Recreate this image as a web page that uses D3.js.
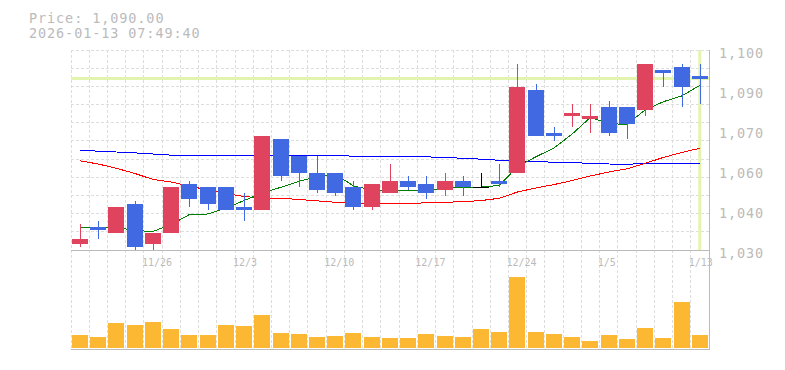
<!DOCTYPE html>
<meta charset="utf-8">
<head>
    <title>Candlestick</title>
    <style>
        body { margin: 0; background: #fff; }
        text { font-family: "DejaVu Sans Mono", monospace; fill: #bbb; }
        .grid { stroke: #ddd; stroke-dasharray: 3,2; shape-rendering: crispEdges; }
        .frame { stroke: #bbb; shape-rendering: crispEdges; }
        .ma { fill: none; stroke-width: 1; shape-rendering: crispEdges; }
    </style>
</head>
<script src="https://d3js.org/d3.v7.min.js"></script>
<svg id="chart" width="785" height="370"></svg>
<script>
    // trading days
    const dates = ["11/19", "11/20", "11/21", "11/25", "11/26", "11/27", "11/28", "12/1", "12/2", "12/3",
        "12/4", "12/5", "12/8", "12/9", "12/10", "12/11", "12/12", "12/15", "12/16", "12/17",
        "12/18", "12/19", "12/22", "12/23", "12/24", "12/25", "12/26", "12/29", "12/30", "1/5",
        "1/6", "1/7", "1/8", "1/9", "1/13"]
    const opens = [1032, 1038, 1036, 1046, 1032, 1036, 1053, 1052, 1052, 1045, 1044, 1069, 1063, 1057, 1057, 1052, 1045, 1050,
        1054, 1053, 1051, 1054, 1052, 1054, 1057, 1086, 1071, 1077, 1076, 1080, 1080, 1079, 1093, 1094, 1091]
    const highs = [1039, 1040, 1045, 1047, 1036, 1052, 1054, 1052, 1052, 1050, 1070, 1069, 1063, 1063, 1057, 1054, 1053, 1060,
        1056, 1056, 1057, 1056, 1057, 1060, 1095, 1088, 1073, 1081, 1081, 1082, 1080, 1095, 1093, 1095, 1095]
    const lows = [1031, 1034, 1036, 1030, 1030, 1036, 1045, 1044, 1044, 1040, 1044, 1054, 1052, 1050, 1049, 1044, 1044, 1050,
        1051, 1048, 1049, 1049, 1052, 1052, 1057, 1070, 1068, 1073, 1071, 1070, 1069, 1077, 1087, 1080, 1081]
    const closes = [1034, 1037, 1045, 1031, 1036, 1052, 1048, 1046, 1044, 1044, 1070, 1056, 1057, 1051, 1050, 1045, 1053, 1054,
        1052, 1050, 1054, 1052, 1052, 1053, 1087, 1070, 1070, 1078, 1077, 1071, 1074, 1095, 1092, 1087, 1090]
    const volumes = [13, 11, 25, 23, 26, 19, 13, 13, 23, 22, 33, 15, 14, 11, 12, 15, 11, 10,
        10, 14, 12, 11, 19, 16, 71, 16, 14, 11, 7, 13, 9, 20, 10, 46, 13]
    // moving averages
    const maShort = [1037.9, 1037.9, 1038.0, 1036.8, 1036.5, 1038.9, 1042.4, 1042.6, 1044.7, 1047.3, 1050.0, 1051.9, 1054.0,
        1055.6, 1056.6, 1052.4, 1051.0, 1051.0, 1050.8, 1050.8, 1051.7, 1052.0, 1052.0, 1052.6, 1059.2, 1062.6, 1065.7,
        1070.6, 1076.4, 1074.3, 1073.9, 1079.0, 1081.9, 1083.9, 1087.6]
    const maMid = [1061.2, 1060.1, 1058.6, 1056.8, 1054.7, 1053.8, 1052.4, 1051.0, 1049.8, 1048.7, 1048.2, 1048.1, 1047.7,
        1047.2, 1046.7, 1046.3, 1046.3, 1046.3, 1046.3, 1046.5, 1046.7, 1046.9, 1047.3, 1048.1, 1050.3, 1051.7, 1052.9,
        1054.3, 1055.9, 1057.3, 1058.4, 1060.3, 1062.4, 1064.1, 1065.6]
    const maLong = [1064.9, 1064.6, 1064.3, 1064.0, 1063.6, 1063.2, 1063.2, 1063.2, 1063.2, 1063.2, 1063.2, 1063.2, 1063.2,
        1063.2, 1063.2, 1062.8, 1062.8, 1062.8, 1062.8, 1062.6, 1062.4, 1062.1, 1061.8, 1061.4, 1061.2, 1061.0, 1060.7,
        1060.5, 1060.4, 1060.1, 1060.0, 1060.3, 1060.4, 1060.4, 1060.4]

    const priceTicks = [1100, 1086, 1072, 1058, 1044, 1030]
    const priceTickLabels = ["1,100", "1,090", "1,070", "1,060", "1,040", "1,030"]
    const dateLabels = ["11/26", "12/3", "12/10", "12/17", "12/24", "1/5", "1/13"]
    const lastPrice = 1090
    const headerLines = ["Price: 1,090.00", "2026-01-13 07:49:40"]

    const svg = d3.select("#chart")
    const plotLeft = 71, plotRight = 709, plotTop = 50, priceBottom = 250, volBottom = 349

    const x = d3.scaleBand().domain(dates).range([plotLeft, plotRight])
    const step = x.step()
    const y = d3.scaleLinear().domain([1030, 1100]).range([priceBottom, plotTop])
    const yv = d3.scaleLinear().domain([0, 98]).range([volBottom - 1, priceBottom])

    const bars = dates.map((d, i) => ({
        date: d, o: opens[i], h: highs[i], l: lows[i], c: closes[i], v: volumes[i]
    }))

    // grid
    const grid = svg.append("g")
    grid.selectAll("line.v")
        .data(d3.range(dates.length + 1))
        .join("line")
        .attr("class", "grid")
        .attr("x1", i => plotLeft + i * step)
        .attr("x2", i => plotLeft + i * step)
        .attr("y1", plotTop)
        .attr("y2", volBottom)
    grid.selectAll("line.h")
        .data(d3.range(12))
        .join("line")
        .attr("class", "grid")
        .attr("x1", plotLeft)
        .attr("x2", plotRight)
        .attr("y1", k => plotTop + k * (priceBottom - plotTop) / 11)
        .attr("y2", k => plotTop + k * (priceBottom - plotTop) / 11)

    // current price / current day markers
    const cx = d => x(d) + 9
    svg.append("line")
        .attr("x1", plotLeft).attr("x2", plotRight)
        .attr("y1", y(lastPrice)).attr("y2", y(lastPrice))
        .attr("stroke", "#e2f4ae").attr("stroke-width", 3)
    svg.append("line")
        .attr("x1", cx(dates[dates.length - 1])).attr("x2", cx(dates[dates.length - 1]))
        .attr("y1", plotTop).attr("y2", priceBottom)
        .attr("stroke", "#e2f4ae").attr("stroke-width", 3)

    // moving averages
    const line = d3.line()
        .x((v, i) => cx(dates[i]))
        .y(v => y(v))
    svg.append("path").attr("class", "ma").attr("stroke", "#0000ff").attr("d", line(maLong))
    svg.append("path").attr("class", "ma").attr("stroke", "#ff0000").attr("d", line(maMid))
    svg.append("path").attr("class", "ma").attr("stroke", "#008000").attr("d", line(maShort))

    // candles
    const color = d => d.c > d.o ? "#e0435e" : d.c < d.o ? "#4169e1" : "#000"
    const candle = svg.append("g")
        .selectAll("g")
        .data(bars)
        .join("g")
        .style("shape-rendering", "crispEdges")
    candle.append("line")
        .attr("x1", d => cx(d.date) + 0.5)
        .attr("x2", d => cx(d.date) + 0.5)
        .attr("y1", d => y(d.h))
        .attr("y2", d => y(d.l))
        .attr("stroke", color)
    candle.append("rect")
        .attr("x", d => x(d.date) + 1)
        .attr("width", 16)
        .attr("y", d => y(Math.max(d.o, d.c)))
        .attr("height", d => Math.max(1, y(Math.min(d.o, d.c)) - y(Math.max(d.o, d.c))))
        .attr("fill", color)

    // volume
    svg.append("g")
        .selectAll("rect")
        .data(bars)
        .join("rect")
        .attr("x", d => x(d.date) + 1)
        .attr("width", 16)
        .attr("y", d => yv(d.v))
        .attr("height", d => yv(0) - yv(d.v))
        .attr("fill", "#fdb833")
        .style("shape-rendering", "crispEdges")

    // frame lines
    svg.append("line").attr("class", "frame")
        .attr("x1", plotLeft).attr("x2", plotRight).attr("y1", priceBottom + 0.5).attr("y2", priceBottom + 0.5)
    svg.append("line").attr("class", "frame")
        .attr("x1", plotLeft).attr("x2", plotRight).attr("y1", volBottom + 0.5).attr("y2", volBottom + 0.5)
    svg.append("line").attr("class", "frame")
        .attr("x1", plotRight + 0.5).attr("x2", plotRight + 0.5).attr("y1", plotTop).attr("y2", volBottom + 1)

    // price labels
    svg.append("g")
        .selectAll("text")
        .data(priceTicks)
        .join("text")
        .attr("x", 719)
        .attr("y", v => y(v) + 8)
        .style("font-size", "13.5px")
        .style("letter-spacing", "0.9px")
        .text((v, i) => priceTickLabels[i])

    // date labels
    svg.append("g")
        .selectAll("text")
        .data(dateLabels)
        .join("text")
        .attr("x", d => x(d) - 2)
        .attr("y", 266)
        .style("font-size", "10px")
        .text(d => d)

    // header
    svg.append("g")
        .selectAll("text")
        .data(headerLines)
        .join("text")
        .attr("x", 29)
        .attr("y", (d, i) => 22.5 + i * 15)
        .style("font-size", "13.5px")
        .style("letter-spacing", "0.9px")
        .text(d => d)
</script>
